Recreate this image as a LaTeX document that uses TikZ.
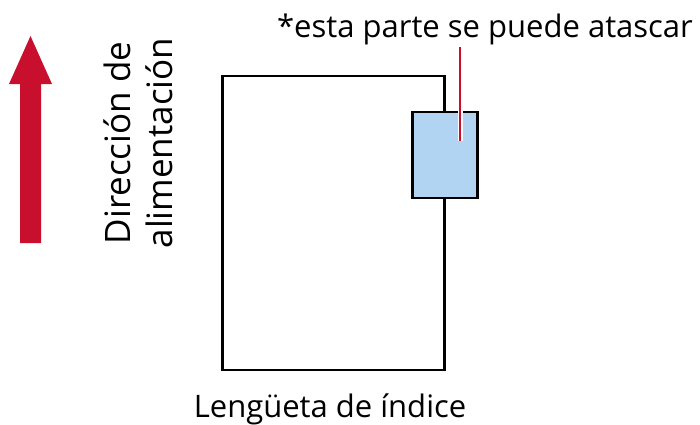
\documentclass[tikz,border=0pt]{standalone}
\usepackage{fontspec}
\setmainfont{Open Sans}
\definecolor{feedred}{HTML}{C8102E}
\definecolor{jamblue}{HTML}{B0D4F2}
\tikzset{
  label/.style={font=\fontsize{31}{37}\selectfont, inner sep=0pt},
  sidelabel/.style={font=\fontsize{35}{42}\selectfont, inner sep=0pt},
}
\begin{document}
\begin{tikzpicture}[x=1pt,y=-1pt]
            \useasboundingbox (0,0) rectangle (700,424);

            % hoja
            \node[draw=black, line width=2.5pt, minimum width=222, minimum height=294, inner sep=0pt] (sheet) at (333.5,223) {};
            \node[draw=black, fill=jamblue, line width=2.5pt, minimum width=65, minimum height=86, inner sep=0pt] (jam) at (445,155) {};

            % flecha de alimentacion
            \fill[feedred] (20,243) -- (20,84) -- (9,84) -- (30.5,36) -- (52,84) -- (41,84) -- (41,243) -- cycle;

            \node[sidelabel, rotate=90, align=center] (feed) at (138,143) {Dirección de\\alimentación};

            \node[label, anchor=base] (note) at (485,37) {*esta parte se puede atascar};
            \coordinate (tip) at (460,141);
            \draw[white, line width=5pt] (460,47) -- (tip);
            \draw[feedred, line width=2.5pt] (460,47) -- (tip);

            \node[label, anchor=base] (tab) at (330,417) {Lengüeta de índice};
        \end{tikzpicture}
\end{document}
